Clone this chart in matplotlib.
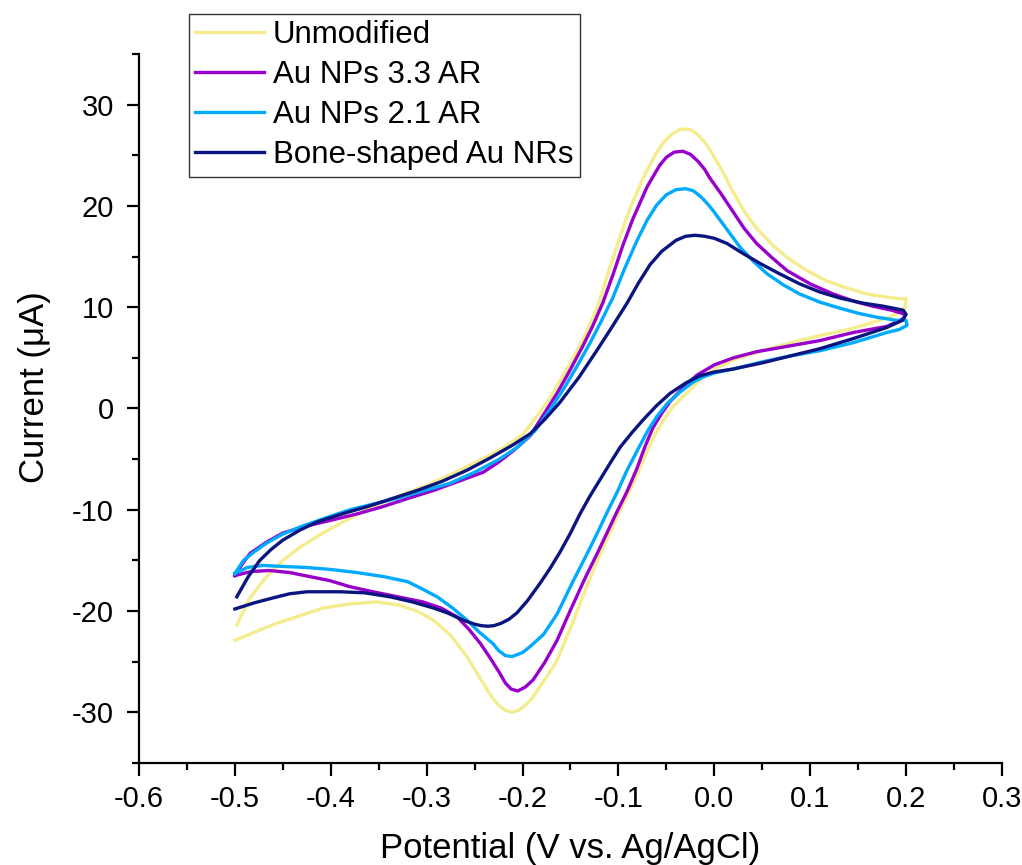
import numpy as np
import matplotlib
matplotlib.use('Agg')
import matplotlib.pyplot as plt
from matplotlib.ticker import MultipleLocator

plt.rcParams['font.family'] = ['Liberation Sans', 'DejaVu Sans']

# Unmodified electrode: anodic sweep (-0.5 -> 0.2) then cathodic sweep back
unmod_E = [-0.498, -0.485, -0.467, -0.450, -0.432, -0.410, -0.387, -0.365, -0.341, -0.320,
           -0.300, -0.270, -0.240, -0.220, -0.200, -0.185, -0.171, -0.157, -0.143, -0.132,
           -0.122, -0.112, -0.102, -0.093, -0.085, -0.072, -0.060, -0.052, -0.044, -0.037,
           -0.031, -0.024, -0.017, -0.010, -0.003, 0.005, 0.012, 0.019, 0.031, 0.044,
           0.060, 0.076, 0.095, 0.117, 0.138, 0.159, 0.180, 0.196, 0.200, 0.199,
           0.185, 0.162, 0.140, 0.110, 0.080, 0.050, 0.020, 0.000, -0.015, -0.030,
           -0.043, -0.052, -0.061, -0.069, -0.078, -0.088, -0.099, -0.109, -0.119, -0.132,
           -0.147, -0.165, -0.182, -0.190, -0.197, -0.204, -0.211, -0.218, -0.225, -0.232,
           -0.240, -0.249, -0.258, -0.275, -0.293, -0.310, -0.330, -0.352, -0.380, -0.408,
           -0.430, -0.456, -0.480, -0.500]
unmod_I = [-21.4, -18.8, -16.6, -15.0, -13.7, -12.4, -11.2, -10.1, -9.1, -8.3,
           -7.6, -6.3, -4.9, -3.9, -2.6, -0.8, 1.1, 3.4, 5.7, 7.8,
           10.0, 13.0, 15.9, 18.4, 20.4, 23.2, 25.3, 26.4, 27.1, 27.5,
           27.6, 27.5, 27.0, 26.3, 25.3, 24.0, 22.8, 21.5, 19.5, 17.8,
           16.2, 14.9, 13.7, 12.6, 11.9, 11.3, 11.0, 10.8, 10.9, 9.9,
           9.1, 8.4, 7.8, 7.2, 6.5, 5.7, 4.8, 3.9, 2.8, 1.4,
           0.2, -1.0, -2.4, -4.0, -6.0, -8.1, -10.2, -12.3, -14.4, -17.3,
           -21.0, -25.1, -27.5, -28.6, -29.3, -29.8, -30.0, -29.8, -29.3, -28.5,
           -27.3, -25.9, -24.5, -22.4, -20.9, -20.0, -19.4, -19.1, -19.3, -19.7,
           -20.4, -21.2, -22.1, -22.9]

# Au NPs 3.3 AR
np33_E = [-0.500, -0.492, -0.484, -0.467, -0.450, -0.425, -0.398, -0.372, -0.346, -0.320,
          -0.293, -0.267, -0.241, -0.225, -0.210, -0.192, -0.178, -0.164, -0.151, -0.138,
          -0.127, -0.116, -0.105, -0.095, -0.085, -0.070, -0.057, -0.050, -0.042, -0.033,
          -0.025, -0.017, -0.010, -0.005, 0.007, 0.019, 0.031, 0.044, 0.060, 0.076,
          0.100, 0.124, 0.145, 0.165, 0.185, 0.199, 0.198, 0.180, 0.145, 0.110,
          0.080, 0.044, 0.020, 0.000, -0.018, -0.032, -0.046, -0.055, -0.064, -0.072,
          -0.081, -0.091, -0.102, -0.112, -0.122, -0.135, -0.150, -0.164, -0.177, -0.189,
          -0.197, -0.205, -0.212, -0.218, -0.224, -0.234, -0.244, -0.256, -0.268, -0.285,
          -0.304, -0.330, -0.356, -0.380, -0.401, -0.422, -0.443, -0.464, -0.483, -0.500]
np33_I = [-16.5, -15.3, -14.3, -13.2, -12.3, -11.6, -11.0, -10.4, -9.7, -8.9,
          -8.1, -7.2, -6.3, -5.3, -4.2, -2.7, -0.6, 1.5, 3.7, 6.0,
          8.1, 10.5, 13.4, 16.2, 18.7, 21.9, 24.0, 24.8, 25.3, 25.4,
          25.1, 24.4, 23.6, 22.8, 21.2, 19.5, 17.8, 16.3, 14.9, 13.6,
          12.3, 11.3, 10.6, 10.1, 9.7, 9.3, 8.9, 8.1, 7.5, 6.7,
          6.2, 5.6, 5.0, 4.3, 3.3, 2.1, 0.7, -0.5, -1.9, -3.7,
          -6.0, -8.2, -10.3, -12.3, -14.3, -16.8, -19.9, -22.9, -25.1, -26.8,
          -27.5, -27.9, -27.7, -27.1, -26.1, -24.6, -23.2, -21.8, -20.6, -19.7,
          -19.1, -18.6, -18.1, -17.6, -17.0, -16.6, -16.2, -16.0, -16.1, -16.5]

# Au NPs 2.1 AR
np21_E = [-0.500, -0.491, -0.479, -0.467, -0.450, -0.432, -0.405, -0.380, -0.354, -0.328,
          -0.302, -0.276, -0.250, -0.224, -0.205, -0.187, -0.171, -0.156, -0.143, -0.130,
          -0.118, -0.106, -0.094, -0.081, -0.070, -0.060, -0.050, -0.040, -0.030, -0.022,
          -0.014, -0.007, -0.001, 0.013, 0.027, 0.041, 0.055, 0.072, 0.089, 0.110,
          0.131, 0.150, 0.170, 0.190, 0.200, 0.201, 0.193, 0.180, 0.145, 0.110,
          0.080, 0.050, 0.020, 0.000, -0.012, -0.022, -0.036, -0.049, -0.060, -0.070,
          -0.080, -0.091, -0.101, -0.112, -0.122, -0.133, -0.147, -0.164, -0.178, -0.192,
          -0.200, -0.211, -0.218, -0.225, -0.231, -0.245, -0.258, -0.273, -0.289, -0.305,
          -0.320, -0.345, -0.373, -0.400, -0.425, -0.450, -0.471, -0.487, -0.500]
np21_I = [-16.3, -15.0, -14.1, -13.3, -12.4, -11.7, -10.8, -10.0, -9.4, -8.8,
          -8.1, -7.4, -6.3, -5.0, -3.8, -2.2, -0.1, 2.1, 4.2, 6.4,
          8.6, 10.9, 13.7, 16.5, 18.6, 20.1, 21.1, 21.6, 21.7, 21.5,
          20.9, 20.2, 19.5, 17.7, 15.9, 14.5, 13.3, 12.2, 11.3, 10.5,
          9.9, 9.4, 9.0, 8.7, 8.7, 8.2, 7.8, 7.5, 6.5, 5.7,
          5.2, 4.6, 3.9, 3.5, 3.1, 2.6, 1.6, 0.5, -0.8, -2.3,
          -4.1, -6.1, -8.2, -10.3, -12.3, -14.4, -17.0, -20.3, -22.3, -23.5,
          -24.1, -24.5, -24.4, -23.9, -23.2, -22.1, -20.9, -19.7, -18.6, -17.8,
          -17.1, -16.6, -16.2, -15.9, -15.7, -15.6, -15.5, -15.7, -16.3]

# Bone-shaped Au NRs
bone_E = [-0.498, -0.486, -0.474, -0.462, -0.450, -0.432, -0.414, -0.388, -0.362, -0.336,
          -0.310, -0.284, -0.258, -0.234, -0.210, -0.192, -0.177, -0.161, -0.141, -0.122,
          -0.107, -0.091, -0.079, -0.067, -0.055, -0.040, -0.030, -0.020, -0.010, 0.000,
          0.013, 0.030, 0.048, 0.068, 0.089, 0.110, 0.131, 0.155, 0.176, 0.197,
          0.200, 0.196, 0.180, 0.145, 0.110, 0.080, 0.050, 0.020, 0.000, -0.016,
          -0.030, -0.046, -0.060, -0.074, -0.086, -0.098, -0.108, -0.119, -0.130, -0.140,
          -0.150, -0.161, -0.172, -0.182, -0.195, -0.206, -0.214, -0.222, -0.230, -0.236,
          -0.243, -0.250, -0.262, -0.278, -0.293, -0.315, -0.338, -0.365, -0.390, -0.425,
          -0.443, -0.460, -0.480, -0.500]
bone_I = [-18.6, -16.6, -15.0, -13.9, -13.0, -12.0, -11.2, -10.4, -9.7, -8.9,
          -8.1, -7.2, -6.1, -4.9, -3.6, -2.5, -1.1, 0.6, 3.1, 5.8,
          8.0, 10.4, 12.4, 14.2, 15.5, 16.6, 17.0, 17.1, 17.0, 16.8,
          16.3, 15.3, 14.3, 13.3, 12.3, 11.5, 10.9, 10.4, 10.1, 9.7,
          9.3, 8.7, 8.0, 6.9, 5.9, 5.2, 4.5, 3.9, 3.6, 3.2,
          2.5, 1.5, 0.3, -1.1, -2.4, -3.8, -5.3, -7.0, -8.7, -10.4,
          -12.3, -14.2, -15.9, -17.3, -19.0, -20.2, -20.8, -21.2, -21.45, -21.5,
          -21.45, -21.3, -20.9, -20.2, -19.7, -19.1, -18.6, -18.2, -18.1, -18.1,
          -18.3, -18.7, -19.2, -19.8]

labels = ['Unmodified', 'Au NPs 3.3 AR', 'Au NPs 2.1 AR', 'Bone-shaped Au NRs']
colors = ['#F5EC8E', '#9900CC', '#00AAFF', '#0A1580']

fig = plt.figure(figsize=(10.22, 8.65), dpi=100)
ax = fig.add_axes([0.136, 0.118, 0.8444, 0.8196])

curves = [(unmod_E, unmod_I), (np33_E, np33_I), (np21_E, np21_I), (bone_E, bone_I)]
for (E, I), lab, col in zip(curves, labels, colors):
    ax.plot(E, I, color=col, lw=2.4, label=lab, solid_joinstyle='round')

ax.set_xlim(-0.6, 0.3)
ax.set_ylim(-35, 35)
ax.xaxis.set_minor_locator(MultipleLocator(0.05))
ax.yaxis.set_minor_locator(MultipleLocator(5))
ax.set_xticks(np.arange(-0.6, 0.31, 0.1))
ax.set_xticklabels(['-0.6', '-0.5', '-0.4', '-0.3', '-0.2', '-0.1', '0.0', '0.1', '0.2', '0.3'])
ax.set_yticks([-30, -20, -10, 0, 10, 20, 30])
ax.set_yticklabels(['-30', '-20', '-10', '0', '10', '20', '30'])

for s in ['top', 'right']:
    ax.spines[s].set_visible(False)
for s in ['left', 'bottom']:
    ax.spines[s].set_linewidth(1.6)
ax.tick_params(which='major', direction='out', length=9, width=1.6, labelsize=21)
ax.tick_params(which='minor', direction='out', length=5, width=1.6)
ax.tick_params(axis='x', which='major', pad=7)
ax.tick_params(axis='y', which='major', pad=9)

ax.set_xlabel('Potential (V vs. Ag/AgCl)', fontsize=25)
ax.set_ylabel('Current (\u03bcA)', fontsize=25)
ax.xaxis.set_label_coords(0.5, -0.097)
ax.yaxis.set_label_coords(-0.102, 0.53)

leg = ax.legend(loc='upper left', bbox_to_anchor=(189 / 1022, 1 - 14 / 865),
                bbox_transform=fig.transFigure, fontsize=22.5, frameon=True,
                fancybox=False, edgecolor='#333333', framealpha=1,
                borderpad=0.2, borderaxespad=0, labelspacing=0.32,
                handlelength=2.2, handletextpad=0.28)
leg.get_frame().set_linewidth(1.0)

fig.savefig('out.png', dpi=100)
